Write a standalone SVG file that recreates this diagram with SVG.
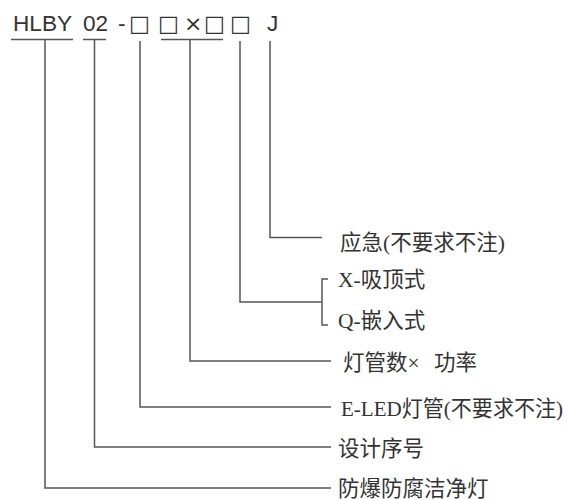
<svg xmlns="http://www.w3.org/2000/svg" width="567" height="500" viewBox="0 0 567 500">
<style>
.code{font-family:"Liberation Sans",Arial,sans-serif;font-size:22.6px;fill:#333}
.box{font-family:"DejaVu Sans",sans-serif;font-size:22px;fill:#333}
.lbl{font-family:"Liberation Serif","Noto Sans CJK SC",serif;font-size:21.5px;fill:#333}
.ln{fill:none;stroke:#555;stroke-width:1.5}
</style>
<rect width="567" height="500" fill="#fff"/>
<g id="code">
<text class="code" y="31"><tspan x="13">HLBY</tspan><tspan x="83">02</tspan><tspan x="118">-</tspan><tspan x="267">J</tspan></text>
<text class="box" y="31"><tspan x="129">□</tspan><tspan x="158">□</tspan><tspan x="184">×</tspan><tspan x="204">□</tspan><tspan x="230">□</tspan></text>
</g>
<g id="connectors">
<path class="ln" d="M11 39.5H73M83 39.5H106M161 39.5H223"/>
<path class="ln" d="M270 41V237.5H322"/>
<path class="ln" d="M240 41V302H322M328 279H322V325H328"/>
<path class="ln" d="M190 39.5V361H331"/>
<path class="ln" d="M140 41V407H331"/>
<path class="ln" d="M94.5 39.5V447H331"/>
<path class="ln" d="M45 39.5V488H331"/>
</g>
<g id="n-yingji"><text class="lbl" x="340" y="250">应急(不要求不注)</text></g>
<g id="n-x"><text class="lbl" x="338" y="287">X-吸顶式</text></g>
<g id="n-q"><text class="lbl" x="338" y="328">Q-嵌入式</text></g>
<g id="n-power"><text class="lbl" x="343" y="370">灯管数×<tspan x="434">功率</tspan></text></g>
<g id="n-eled"><text class="lbl" x="341" y="416" textLength="222" lengthAdjust="spacingAndGlyphs">E-LED灯管(不要求不注)</text></g>
<g id="n-seq"><text class="lbl" x="338" y="456">设计序号</text></g>
<g id="n-name"><text class="lbl" x="338" y="496">防爆防腐洁净灯</text></g>
</svg>
